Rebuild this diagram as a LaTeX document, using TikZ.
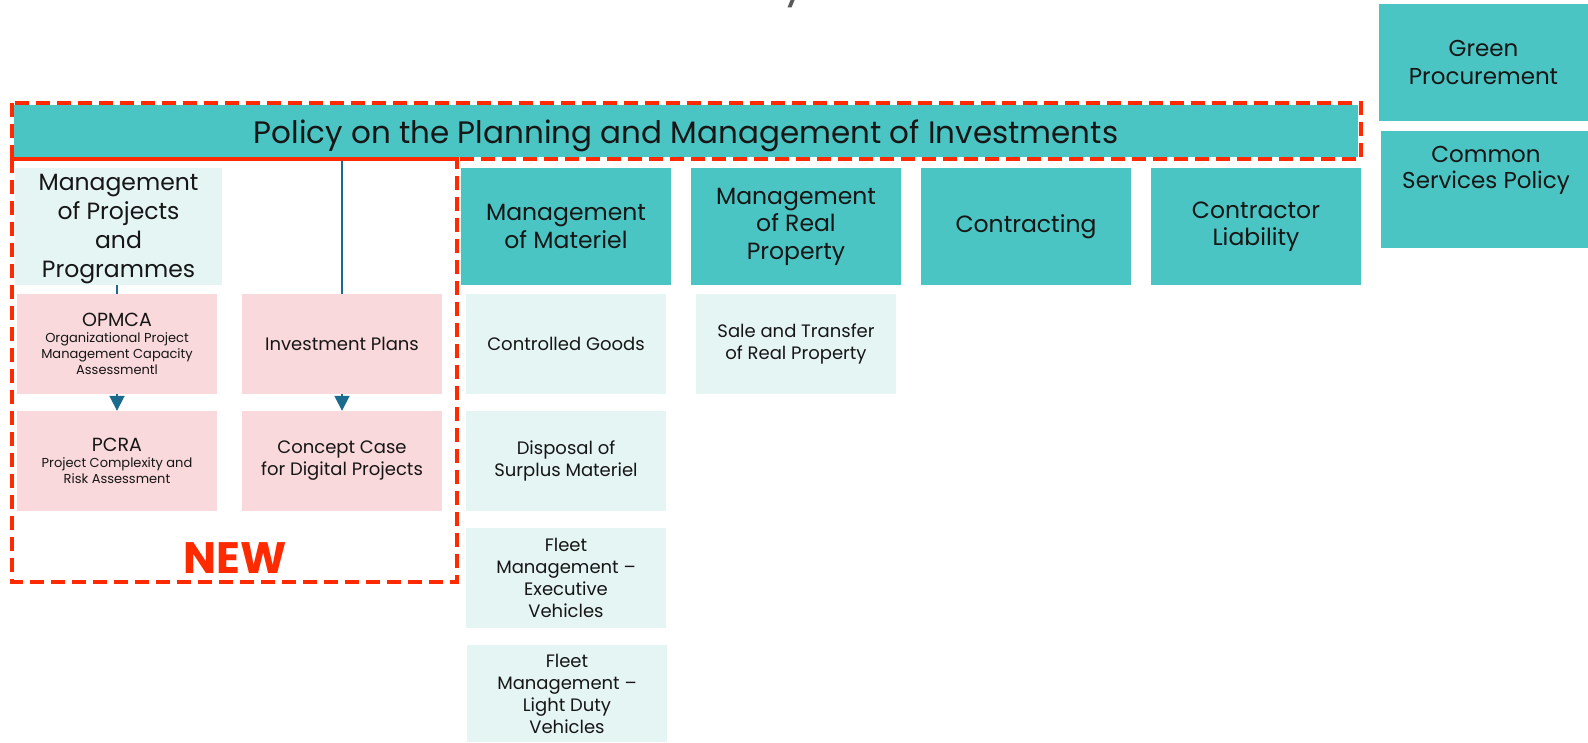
\documentclass[tikz,border=0pt]{standalone}
\usepackage{fontspec}
\setmainfont{Poppins}
\usetikzlibrary{arrows.meta}
\definecolor{tealbg}{HTML}{4BC5C3}
\definecolor{ltealbg}{HTML}{E5F5F4}
\definecolor{pinkbg}{HTML}{F9D9DB}
\definecolor{reddash}{HTML}{FF2A00}
\definecolor{lineblue}{HTML}{1B6B8F}
\definecolor{txtc}{HTML}{161616}
\begin{document}
\begin{tikzpicture}[x=1pt,y=-1pt,
  basebox/.style={draw=none, inner sep=0pt, align=center, text=txtc},
  tealbox/.style={basebox, fill=tealbg, minimum width=210pt, minimum height=117pt, font=\fontsize{23.5}{27.5}\selectfont},
  lbox/.style={basebox, fill=ltealbg, minimum width=200pt, minimum height=100pt, font=\fontsize{18}{22}\selectfont},
  pbox/.style={basebox, fill=pinkbg, minimum width=200pt, minimum height=100pt, font=\fontsize{18}{22}\selectfont},
  redbox/.style={draw=reddash, line width=4.5pt, dash pattern=on 14pt off 7pt},
  conn/.style={draw=lineblue, line width=1.8pt},
  tri/.style={conn, -{Triangle[length=15pt,width=15pt]}}
]
\useasboundingbox (0,0) rectangle (1588,742);
\clip (0,0) rectangle (1588,742);
\fill[white] (0,0) rectangle (1588,742);

% cut-off heading fragment
\node[text=black!65, font=\fontsize{44}{44}\selectfont, anchor=base, inner sep=0pt] (heading) at (795,-4) {y};

% right-hand policies
\node[tealbox, minimum width=209pt, font=\fontsize{23}{28}\selectfont] (green) at (1483.5,62.5) {Green\\Procurement};
\node[tealbox, minimum width=207pt] (common) at (1484.5,189.5) {};
\node[basebox, anchor=base, font=\fontsize{23}{25.5}\selectfont] (commontxt) at (1486,188) {Common\\Services Policy};

% main policy bar
\node[basebox, fill=tealbg, minimum width=1344pt, minimum height=52pt] (title) at (686,131) {};
\node[basebox, anchor=base, font=\fontsize{31}{34}\selectfont] (titletxt) at (686,143) {Policy on the Planning and Management of Investments};

% second row
\node[basebox, fill=ltealbg, minimum width=207pt, minimum height=117pt, anchor=north] (mpp) at (118.5,168) {};
\node[basebox, anchor=base, font=\fontsize{23.5}{28.7}\selectfont] (mpptxt) at (118.5,277) {Management\\of Projects\\and\\Programmes};
\node[tealbox] (mat) at (566,226.5) {Management\\of Materiel};
\node[tealbox] (real) at (796,226.5) {Management\\of Real\\Property};
\node[tealbox] (contr) at (1026,226.5) {Contracting};
\node[tealbox] (liab) at (1256,226.5) {Contractor\\Liability};

% new instruments
\node[pbox, font=\fontsize{13}{16}\selectfont] (opmca) at (117,344) {{\fontsize{19}{16}\selectfont OPMCA}\\Organizational Project\\Management Capacity\\Assessmentl};
\node[pbox] (inv) at (342,344) {Investment Plans};
\node[pbox, font=\fontsize{13}{16}\selectfont] (pcra) at (117,461) {{\fontsize{19}{16}\selectfont PCRA}\\Project Complexity and\\Risk Assessment};
\node[pbox] (concept) at (342,461) {Concept Case\\for Digital Projects};

% materiel / real property instruments
\node[lbox] (ctrl) at (566,344) {Controlled Goods};
\node[lbox] (sale) at (796,344) {Sale and Transfer\\of Real Property};
\node[lbox] (disp) at (566,461) {Disposal of\\Surplus Materiel};
\node[lbox] (fexec) at (566,578) {Fleet\\Management --\\Executive\\Vehicles};
\node[lbox, minimum height=97pt] (flight) at (567,693.5) {Fleet\\Management --\\Light Duty\\Vehicles};

% connectors
\draw[conn] (opmca.north |- mpp.south) -- (opmca.north);
\draw[conn] (inv.north |- title.south) -- (inv.north);
\draw[tri] (opmca.south) -- (pcra.north);
\draw[tri] (inv.south) -- (concept.north);

% red dashed highlight
\draw[redbox] (12,103) rectangle (1361,159);
\draw[redbox] (12,159) rectangle (457,582);
\node[text=reddash, font=\fontsize{44}{44}\selectfont\bfseries, anchor=base, inner sep=0pt] (new) at (235.5,573) {NEW};
\end{tikzpicture}
\end{document}
